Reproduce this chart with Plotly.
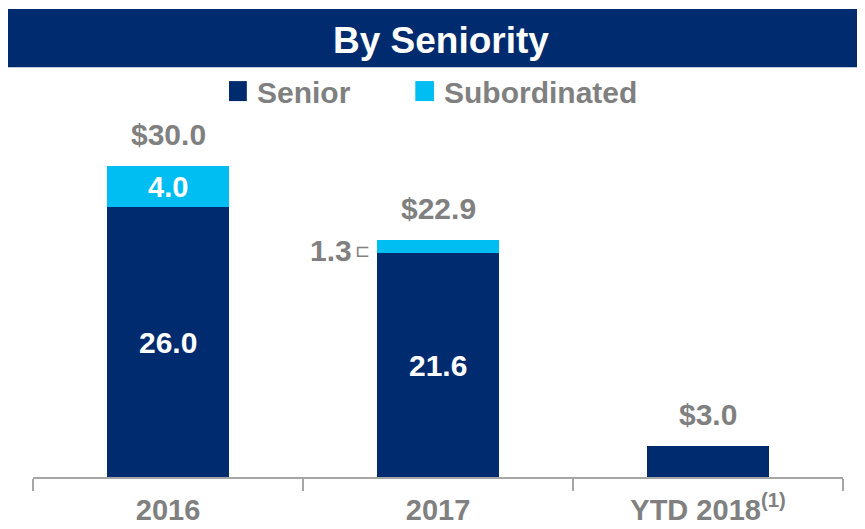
import plotly.graph_objects as go

categories = ["2016", "2017", "YTD 2018"]
tick_labels = ["2016", "2017", "YTD 2018<sup>(1)</sup>"]
senior = [26.0, 21.6, 3.0]
subordinated = [4.0, 1.3, 0.0]
totals = [30.0, 22.9, 3.0]

NAVY = "#002B6F"
CYAN = "#00BEF2"
GRAY = "#808080"
FONT = "Liberation Sans, Arial, sans-serif"

fig = go.Figure()
fig.add_trace(go.Bar(x=categories, y=senior, name="Senior", marker_color=NAVY,
                     marker_line_width=0, width=0.45, showlegend=False))
fig.add_trace(go.Bar(x=categories, y=subordinated, name="Subordinated", marker_color=CYAN,
                     marker_line_width=0, width=0.45, showlegend=False))

ann = []
# totals
for i, t in enumerate(totals):
    ann.append(dict(x=i, y=t, xref="x", yref="y", text=f"<b>${t:.1f}</b>", showarrow=False,
                    yshift=31, font=dict(size=30, color=GRAY, family=FONT)))
# senior labels inside
for i, s in enumerate(senior):
    if s >= 10:
        ann.append(dict(x=i, y=s / 2, xref="x", yref="y", text=f"<b>{s:.1f}</b>", showarrow=False,
                        font=dict(size=30, color="white", family=FONT)))
# subordinated labels
for i, (s, sub) in enumerate(zip(senior, subordinated)):
    if sub >= 3:
        ann.append(dict(x=i, y=s + sub / 2, xref="x", yref="y", text=f"<b>{sub:.1f}</b>", showarrow=False,
                        font=dict(size=29, color="white", family=FONT)))
    elif sub > 0:
        ann.append(dict(x=i, y=s + sub / 2, xref="x", yref="y", text=f"<b>{sub:.1f}</b>", showarrow=False,
                        xanchor="right", xshift=-84, yshift=-4,
                        font=dict(size=30, color=GRAY, family=FONT)))
        ann.append(dict(x=i, y=s + sub / 2, xref="x", yref="y", text="⊏", showarrow=False,
                        xanchor="center", xshift=-76, yshift=-4,
                        font=dict(size=18, color=GRAY, family="DejaVu Sans")))

# title
ann.append(dict(x=0.504, y=1.224, xref="paper", yref="paper", text="<b>By Seniority</b>", showarrow=False,
                xanchor="center", yanchor="middle", font=dict(size=37, color="white", family=FONT)))
# legend texts
ann.append(dict(x=0.274, y=1.078, xref="paper", yref="paper", text="<b>Senior</b>", showarrow=False,
                xanchor="left", yanchor="middle", font=dict(size=30, color=GRAY, family=FONT)))
ann.append(dict(x=0.505, y=1.078, xref="paper", yref="paper", text="<b>Subordinated</b>", showarrow=False,
                xanchor="left", yanchor="middle", font=dict(size=30, color=GRAY, family=FONT)))

shapes = [
    dict(type="rect", xref="paper", yref="paper", x0=-0.031, x1=1.03, y0=1.148, y1=1.311,
         fillcolor=NAVY, line_width=0, layer="below"),
    dict(type="rect", xref="paper", yref="paper", x0=0.242, x1=0.264, y0=1.053, y1=1.109,
         fillcolor=NAVY, line_width=0),
    dict(type="rect", xref="paper", yref="paper", x0=0.472, x1=0.495, y0=1.053, y1=1.109,
         fillcolor=CYAN, line_width=0),
]

fig.update_layout(
    barmode="stack",
    width=857, height=521,
    margin=dict(l=25, r=22, t=112, b=52, autoexpand=False),
    plot_bgcolor="white", paper_bgcolor="white",
    annotations=ann, shapes=shapes,
    xaxis=dict(type="category", tickmode="array", tickvals=categories,
               ticktext=[f"<b>{t}</b>" for t in tick_labels], automargin=False,
               tickson="boundaries", ticks="outside", ticklen=12, tickcolor="#A6A6A6", tickwidth=1.5,
               showline=True, linecolor="#A6A6A6", linewidth=1.5, ticklabelstandoff=6,
               tickfont=dict(size=29, color=GRAY, family=FONT), range=[-0.5, 2.5]),
    yaxis=dict(range=[0, 34.43], visible=False, showgrid=False, zeroline=False, automargin=False),
    bargap=0.55,
)

fig.write_html("out.html")
